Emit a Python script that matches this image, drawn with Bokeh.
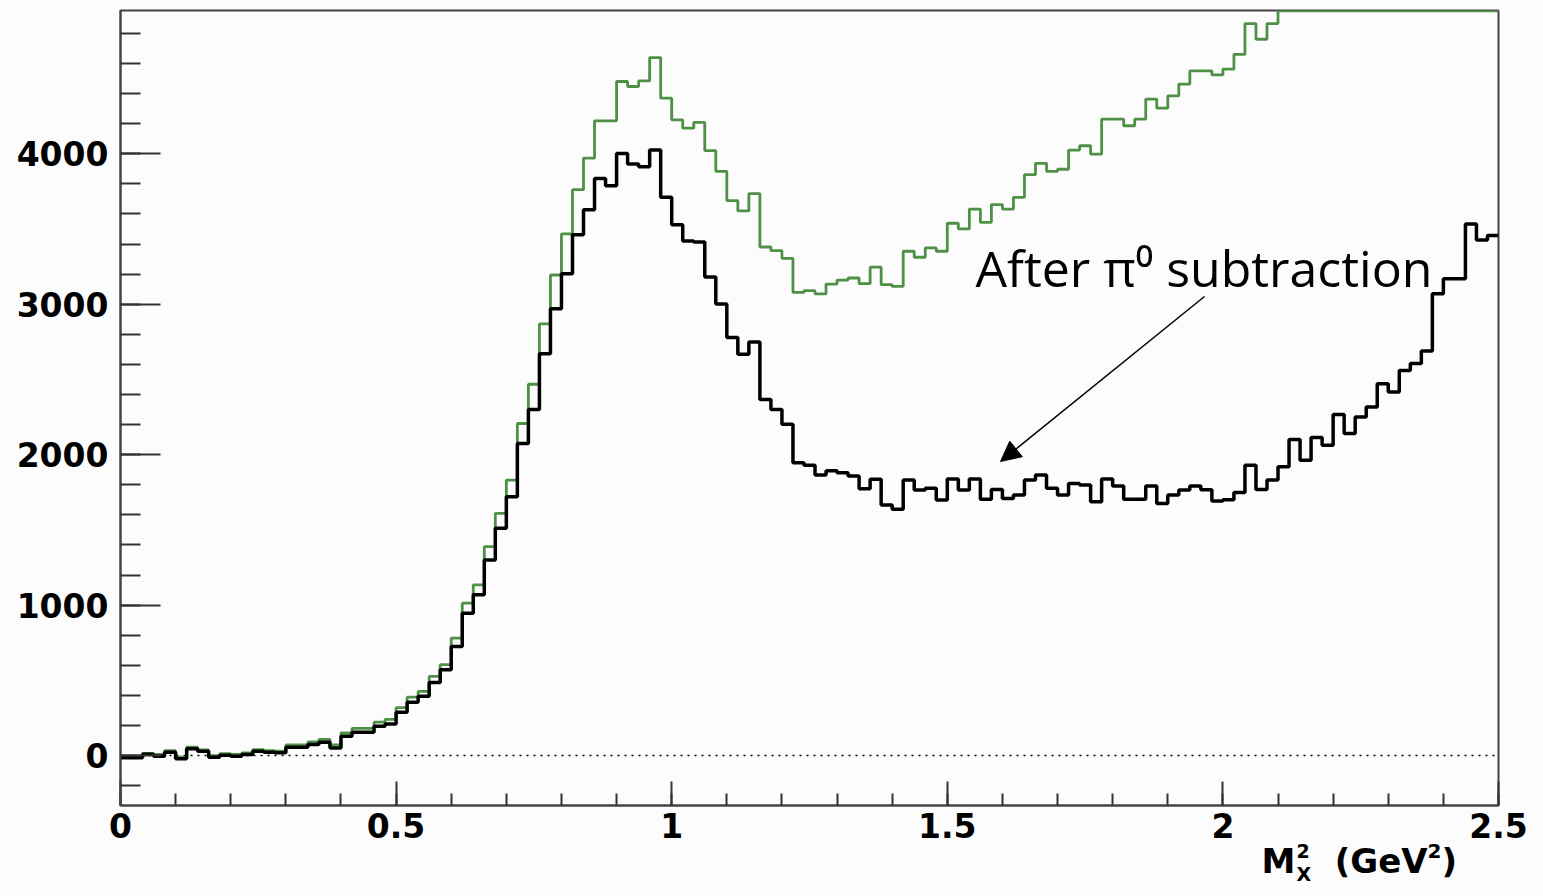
import numpy as np
from bokeh.plotting import figure
from bokeh.layouts import column
from bokeh.models import SingleIntervalTicker, CustomJSTickFormatter, Label, Arrow, NormalHead, Div
from bokeh.embed import file_html
from bokeh.resources import INLINE

# ---- data: histogram, 125 bins of width 0.02 GeV^2 from 0 to 2.5 ----
bin_start = 0.0
bin_width = 0.02

after_subtraction = [
    -15, -15, 8, -4, 22, -22, 46, 29, -11, 2,
    -4, 7, 29, 22, 18, 55, 55, 73, 88, 51,
    128, 155, 155, 195, 210, 288, 354, 394, 485, 570,
    725, 946, 1068, 1300, 1510, 1720, 2074, 2300, 2671, 2970,
    3202, 3461, 3628, 3836, 3788, 4002, 3931, 3914, 4024, 3710,
    3528, 3420, 3414, 3180, 3002, 2778, 2667, 2749, 2366, 2300,
    2202, 1946, 1930, 1864, 1893, 1879, 1858, 1773, 1837, 1665,
    1637, 1831, 1765, 1776, 1698, 1838, 1765, 1838, 1703, 1769,
    1709, 1731, 1831, 1864, 1776, 1731, 1809, 1798, 1687, 1838,
    1791, 1703, 1703, 1791, 1676, 1731, 1765, 1791, 1767, 1692,
    1700, 1748, 1930, 1769, 1831, 1919, 2100, 1963, 2114, 2063,
    2267, 2141, 2251, 2317, 2472, 2417, 2560, 2605, 2689, 3069,
    3169, 3169, 3533, 3427, 3456,
]

before_subtraction = [
    -8, -5, 15, 8, 32, -10, 55, 38, 0, 12,
    8, 18, 40, 32, 30, 70, 70, 90, 108, 70,
    150, 180, 180, 222, 240, 318, 388, 426, 526, 604,
    781, 1013, 1134, 1388, 1610, 1831, 2207, 2468, 2869, 3194,
    3467, 3761, 3971, 4219, 4219, 4480, 4447, 4484, 4639, 4369,
    4225, 4170, 4208, 4020, 3883, 3688, 3620, 3735, 3380, 3356,
    3305, 3078, 3090, 3069, 3134, 3160, 3174, 3136, 3246, 3130,
    3118, 3352, 3312, 3374, 3352, 3538, 3500, 3632, 3544, 3662,
    3632, 3710, 3861, 3936, 3883, 3897, 4024, 4053, 3998, 4230,
    4230, 4186, 4230, 4363, 4303, 4385, 4462, 4551, 4551, 4524,
    4562, 4660, 4865, 4761, 4865, 4950, 4950, 4950, 4950, 4950,
    4950, 4950, 4950, 4950, 4950, 4950, 4950, 4950, 4950, 4950,
    4950, 4950, 4950, 4950, 4950,
]

x_ticks_major = 0.5
y_ticks_major = 1000
annotation_text = "After π⁰ subtraction"

# ---- figure ----
Y_MIN, Y_MAX = -332, 4952
BG = "#fcfcfc"
p = figure(width=1543, height=850, x_range=(0, 2.5), y_range=(Y_MIN, Y_MAX),
           output_backend="svg", toolbar_location=None,
           min_border_left=120, min_border_right=45, min_border_top=10, min_border_bottom=45)

p.background_fill_color = BG
p.border_fill_color = BG
p.xgrid.visible = False
p.ygrid.visible = False
p.outline_line_color = "#444444"
p.outline_line_width = 2

# step histograms
n = len(after_subtraction)
edges = bin_start + bin_width * np.arange(n + 1)
y_black = np.append(after_subtraction, after_subtraction[-1])
y_green = np.minimum(np.append(before_subtraction, before_subtraction[-1]), Y_MAX - 2)

# zero reference line (dotted)
p.line([0, 2.5], [0, 0], line_color="black", line_width=1.5, line_dash="2 5")

p.step(edges, y_green, mode="after", line_color="#4e9046", line_width=2.8)
p.step(edges, y_black, mode="after", line_color="black", line_width=3.5)

# axes
for ax in (p.xaxis[0], p.yaxis[0]):
    ax.axis_line_width = 2
    ax.axis_line_color = "#444444"
    ax.major_tick_line_color = "#333333"
    ax.minor_tick_line_color = "#333333"
    ax.major_tick_line_width = 2
    ax.minor_tick_line_width = 2
    ax.major_tick_out = 0
    ax.minor_tick_out = 0
    ax.major_label_text_font = "DejaVu Sans"
    ax.major_label_text_font_style = "bold"
    ax.major_label_text_font_size = "33px"
    ax.major_label_text_color = "black"

p.xaxis.ticker = SingleIntervalTicker(interval=x_ticks_major, num_minor_ticks=5)
p.yaxis.ticker = SingleIntervalTicker(interval=y_ticks_major, num_minor_ticks=5)
p.xaxis.formatter = CustomJSTickFormatter(code="return String(Math.round(tick*10)/10);")
p.xaxis.major_tick_in = 24
p.xaxis.minor_tick_in = 12
p.yaxis.major_tick_in = 40
p.yaxis.minor_tick_in = 20
p.xaxis.major_label_standoff = 7
p.yaxis.major_label_standoff = 12


def px_to_x(px):
    return (px - 120) / 551.2


def py_to_y(py):
    return (755 - py) / 0.15043


# annotation text and arrow
p.add_layout(Label(x=px_to_x(975), y=py_to_y(268), text=annotation_text, text_font="Open Sans",
                   text_font_size="50px", text_color="black", text_baseline="alphabetic",
                   text_align="left"))
p.add_layout(Arrow(end=NormalHead(size=20, fill_color="black", line_color="black", line_width=1),
                   x_start=px_to_x(1204), y_start=py_to_y(296),
                   x_end=px_to_x(1000), y_end=py_to_y(461),
                   line_color="black", line_width=1.5))

# x axis title  M_X^2 (GeV^2), right-aligned under the axis end
title_html = (
    '<div style="width:1543px;height:46px;background:%s;position:relative;'
    'font-family:\'DejaVu Sans\';font-weight:bold;color:black;">'
    '<div style="position:absolute;right:86px;top:-6px;font-size:34px;line-height:34px;white-space:nowrap;">'
    'M<span style="display:inline-block;vertical-align:top;font-size:19px;line-height:23px;'
    'text-align:left;margin-left:1px;margin-top:-4px;">2<br>X</span>'
    '&nbsp;&nbsp;(GeV<span style="font-size:20px;vertical-align:top;line-height:20px;position:relative;top:-3px;">2</span>)'
    '</div></div>' % BG
)
title_div = Div(text=title_html, width=1543, height=46, margin=(0, 0, 0, 0))

layout = column(p, title_div, spacing=0, margin=(0, 0, 0, 0))
open("out.html", "w").write(file_html(layout, INLINE))
